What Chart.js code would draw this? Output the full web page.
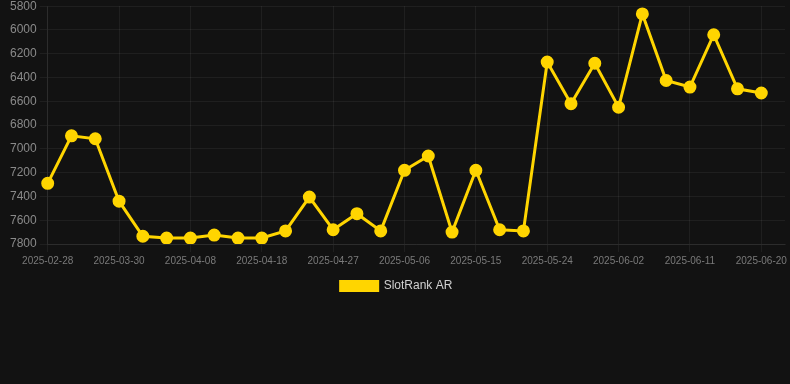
<!DOCTYPE html>
<html>
<head>
<meta charset="utf-8">
<title>SlotRank AR</title>
<script src="https://cdn.jsdelivr.net/npm/chart.js@4.4.0/dist/chart.umd.min.js"></script>
<style>
  html, body { margin: 0; padding: 0; background: #121212; overflow: hidden; }
  #wrap { width: 790px; height: 306px; margin-top: -4px; position: relative; }
</style>
</head>
<body>
<div id="wrap"><canvas id="rankChart"></canvas></div>
<script>
// dates on the x axis (only every 3rd one is shown)
const dates = [
  '2025-02-28', '2025-03-10', '2025-03-20', '2025-03-30', '2025-04-02', '2025-04-05',
  '2025-04-08', '2025-04-11', '2025-04-15', '2025-04-18', '2025-04-21', '2025-04-24',
  '2025-04-27', '2025-04-30', '2025-05-03', '2025-05-06', '2025-05-09', '2025-05-12',
  '2025-05-15', '2025-05-18', '2025-05-21', '2025-05-24', '2025-05-27', '2025-05-30',
  '2025-06-02', '2025-06-05', '2025-06-08', '2025-06-11', '2025-06-14', '2025-06-17',
  '2025-06-20', '2025-06-23'
];

// rank values (lower is better, axis is reversed)
const rankAR = [
  7290, 6890, 6915, 7440, 7735, 7750, 7750, 7725, 7750, 7750,
  7690, 7405, 7680, 7545, 7690, 7180, 7060, 7700, 7180, 7680,
  7690, 6270, 6620, 6280, 6650, 5865, 6425, 6480, 6040, 6495,
  6530, null
];

const seriesName = 'SlotRank AR';
const yMin = 5800;
const yMax = 7800;
const yStep = 200;
const labelEvery = 3;

const gridColor = 'rgba(255,255,255,0.06)';
const lineColor = '#FFD500';

Chart.defaults.font.family = '"Liberation Sans", Arial, Helvetica, sans-serif';

const ctx = document.getElementById('rankChart').getContext('2d');
new Chart(ctx, {
  type: 'line',
  data: {
    labels: dates,
    datasets: [{
      label: seriesName,
      data: rankAR,
      borderColor: lineColor,
      backgroundColor: lineColor,
      borderWidth: 3,
      pointRadius: 5,
      pointHoverRadius: 6,
      pointBackgroundColor: lineColor,
      pointBorderColor: lineColor,
      tension: 0,
      spanGaps: false
    }]
  },
  options: {
    responsive: true,
    maintainAspectRatio: false,
    animation: false,
    layout: {
      autoPadding: false,
      padding: { top: 0, right: 4, left: 7, bottom: 0 }
    },
    scales: {
      x: {
        grid: { color: gridColor },
        border: { color: gridColor },
        ticks: {
          color: '#7a7a7a',
          font: { size: 10 },
          autoSkip: false,
          maxRotation: 0,
          callback: function (value, index) {
            return index % labelEvery === 0 ? this.getLabelForValue(value) : null;
          }
        }
      },
      y: {
        reverse: true,
        min: yMin,
        max: yMax,
        grid: { color: gridColor },
        border: { color: gridColor },
        ticks: {
          color: '#8a8a8a',
          font: { size: 12 },
          stepSize: yStep,
          callback: value => String(value)
        }
      }
    },
    plugins: {
      legend: {
        position: 'bottom',
        labels: {
          color: '#d0d0d0',
          font: { size: 12 },
          boxWidth: 37,
          boxHeight: 9
        }
      },
      tooltip: { enabled: true }
    }
  }
});
</script>
</body>
</html>
